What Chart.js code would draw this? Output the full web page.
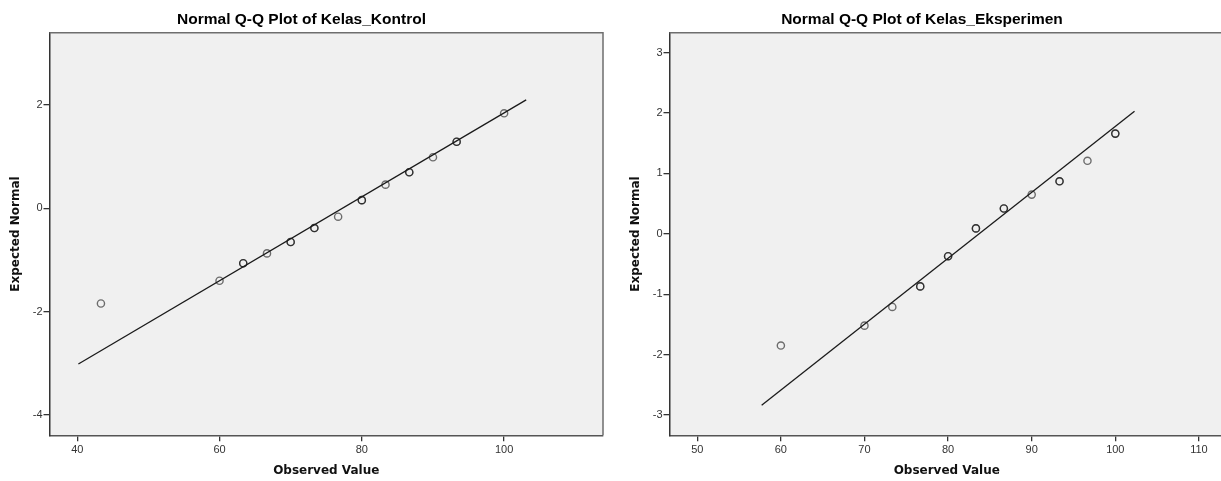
<!DOCTYPE html>
<html lang="en">
<head>
<meta charset="UTF-8">
<title>Normal Q-Q Plot</title>
<style>
  html, body { margin: 0; padding: 0; background: #fff; overflow: hidden; }
  #wrap { position: relative; width: 1221px; height: 481px; overflow: hidden; }
  canvas { position: absolute; top: 0; }
  #kontrol { left: 0; }
  #eksperimen { left: 620px; }
</style>
</head>
<body>
<div id="wrap">
  <canvas id="kontrol" width="620" height="481"></canvas>
  <canvas id="eksperimen" width="610" height="481"></canvas>
</div>
<script src="https://cdn.jsdelivr.net/npm/chart.js"></script>
<script>
// Kelas_Kontrol
const kontrolObserved = [43.33, 60, 63.33, 66.67, 70, 73.33, 76.67, 80, 83.33, 86.67, 90, 93.33, 100];
const kontrolExpected = [-1.84, -1.40, -1.06, -0.87, -0.65, -0.38, -0.16, 0.16, 0.46, 0.70, 0.99, 1.29, 1.84];
const kontrolCases = [1, 1, 2, 1, 2, 2, 1, 2, 1, 2, 1, 2, 1];
const kontrolLineX = [40.16, 103.1];
const kontrolLineY = [-3.01, 2.10];
const kontrolXTicks = [40, 60, 80, 100];
const kontrolYTicks = [-4, -2, 0, 2];

// Kelas_Eksperimen
const eksperimenObserved = [60, 70, 73.33, 76.67, 80, 83.33, 86.67, 90, 93.33, 96.67, 100];
const eksperimenExpected = [-1.85, -1.52, -1.21, -0.87, -0.37, 0.09, 0.42, 0.65, 0.87, 1.21, 1.66];
const eksperimenCases = [1, 1, 1, 2, 2, 2, 2, 1, 2, 1, 2];
const eksperimenLineX = [57.7, 102.3];
const eksperimenLineY = [-2.84, 2.03];
const eksperimenXTicks = [50, 60, 70, 80, 90, 100, 110];
const eksperimenYTicks = [-3, -2, -1, 0, 1, 2, 3];

// tied cases are drawn on top of each other, which makes those circles darker
function casePoints(xs, ys, cases) {
    const pts = [];
    xs.forEach((x, i) => {
        for (let k = 0; k < cases[i]; k++) pts.push({ x: x, y: ys[i] });
    });
    return pts;
}

function linePoints(xs, ys) {
    return xs.map((x, i) => ({ x: x, y: ys[i] }));
}

// grey plot background plus the top and right sides of the frame
const framePlugin = {
    id: 'frame',
    beforeDraw(chart) {
        const { ctx, chartArea: a } = chart;
        ctx.save();
        ctx.fillStyle = '#f0f0f0';
        ctx.fillRect(a.left, a.top, a.width, a.height);
        ctx.restore();
    },
    beforeDatasetsDraw(chart) {
        const { ctx, chartArea: a } = chart;
        ctx.save();
        ctx.strokeStyle = '#6e6e6e';
        ctx.lineWidth = 1.5;
        ctx.beginPath();
        ctx.moveTo(a.left, a.top);
        ctx.lineTo(a.right, a.top);
        ctx.lineTo(a.right, a.bottom);
        ctx.stroke();
        ctx.restore();
    }
};

function makeChart(id, title, pts, line, xTicks, yTicks, xRange, yRange, padRight) {
    return new Chart(document.getElementById(id), {
        type: 'scatter',
        data: {
            datasets: [
                {
                    data: line,
                    showLine: true,
                    borderColor: '#1a1a1a',
                    borderWidth: 1.3,
                    pointRadius: 0,
                    order: 0
                },
                {
                    data: pts,
                    pointStyle: 'circle',
                    pointRadius: 3.6,
                    pointBorderWidth: 1.4,
                    borderColor: 'rgba(0,0,0,0.55)',
                    backgroundColor: 'rgba(0,0,0,0)',
                    order: 1
                }
            ]
        },
        options: {
            responsive: false,
            animation: false,
            layout: { padding: { left: 0, right: padRight, top: 0, bottom: 0 } },
            plugins: {
                legend: { display: false },
                tooltip: { enabled: false },
                title: {
                    display: true,
                    text: title,
                    color: '#000',
                    font: { family: 'Liberation Sans, Arial, sans-serif', size: 15.5, weight: 'bold', lineHeight: 1.2 },
                    padding: { top: 10.7, bottom: 3.4 }
                }
            },
            scales: {
                x: {
                    type: 'linear',
                    min: xRange[0],
                    max: xRange[1],
                    afterBuildTicks: s => { s.ticks = xTicks.map(v => ({ value: v })); },
                    afterFit: s => { s.height = 45.7; },
                    grid: { drawOnChartArea: false, drawTicks: true, tickLength: 6, color: '#333', lineWidth: 1.3 },
                    border: { display: true, color: '#555', width: 1.5 },
                    ticks: {
                        color: '#333',
                        padding: 2,
                        maxRotation: 0,
                        font: { family: 'Liberation Sans, Arial, sans-serif', size: 11 }
                    },
                    title: {
                        display: true,
                        text: 'Observed Value',
                        color: '#111',
                        font: { family: 'DejaVu Sans, sans-serif', size: 12, weight: 'bold', lineHeight: 1.2 },
                        padding: { top: 0, bottom: 2.8 }
                    }
                },
                y: {
                    type: 'linear',
                    min: yRange[0],
                    max: yRange[1],
                    afterBuildTicks: s => { s.ticks = yTicks.map(v => ({ value: v })); },
                    afterFit: s => { s.width = 49.5; },
                    grid: { drawOnChartArea: false, drawTicks: true, tickLength: 6, color: '#333', lineWidth: 1.3 },
                    border: { display: true, color: '#333', width: 1.5 },
                    ticks: {
                        color: '#333',
                        padding: 1,
                        font: { family: 'Liberation Sans, Arial, sans-serif', size: 11 }
                    },
                    title: {
                        display: true,
                        text: 'Expected Normal',
                        color: '#111',
                        font: { family: 'DejaVu Sans, sans-serif', size: 12, weight: 'bold', lineHeight: 1.2 },
                        padding: { top: 8.4, bottom: 0 }
                    }
                }
            }
        },
        plugins: [framePlugin]
    });
}

makeChart('kontrol', 'Normal Q-Q Plot of Kelas_Kontrol',
    casePoints(kontrolObserved, kontrolExpected, kontrolCases),
    linePoints(kontrolLineX, kontrolLineY),
    kontrolXTicks, kontrolYTicks, [36.1, 113.9], [-4.39, 3.40], 17);

makeChart('eksperimen', 'Normal Q-Q Plot of Kelas_Eksperimen',
    casePoints(eksperimenObserved, eksperimenExpected, eksperimenCases),
    linePoints(eksperimenLineX, eksperimenLineY),
    eksperimenXTicks, eksperimenYTicks, [46.68, 113.0], [-3.336, 3.331], 6);
</script>
</body>
</html>
